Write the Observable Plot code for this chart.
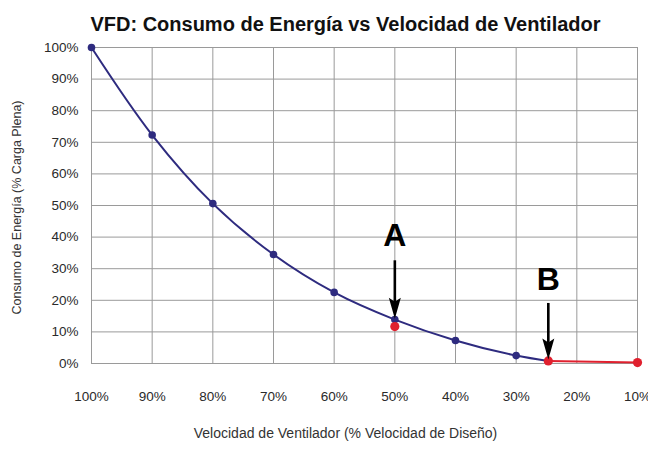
<!DOCTYPE html>
<html>
<head>
<meta charset="utf-8">
<script src="https://cdn.jsdelivr.net/npm/d3@7"></script>
<script src="https://cdn.jsdelivr.net/npm/@observablehq/plot@0.6"></script>
<style>
  html, body { margin: 0; padding: 0; background: #fff; }
  #chart { width: 648px; height: 449px; }
</style>
</head>
<body>
<div id="chart"></div>
<script>
// ---- Data ----
const title = "VFD: Consumo de Energía vs Velocidad de Ventilador";
const xLabel = "Velocidad de Ventilador (% Velocidad de Diseño)";
const yLabel = "Consumo de Energía (% Carga Plena)";

const xTicks = [100, 90, 80, 70, 60, 50, 40, 30, 20, 10];
const yTicks = [0, 10, 20, 30, 40, 50, 60, 70, 80, 90, 100];

// blue curve (fan law)
const blueSpeed = [100, 90, 80, 70, 60, 50, 40, 30, 24.7];
const bluePower = [100, 72.3, 50.6, 34.5, 22.5, 13.9, 7.3, 2.5, 0.8];
// blue markers (all except the last, which is point B)
const blueDotSpeed = [100, 90, 80, 70, 60, 50, 40, 30];
const blueDotPower = [100, 72.3, 50.6, 34.5, 22.5, 13.9, 7.3, 2.5];

// red segment
const redSpeed = [24.7, 10];
const redPower = [0.8, 0.3];
// red markers
const redDotSpeed = [50, 24.7, 10];
const redDotPower = [11.7, 0.8, 0.3];

// annotations
const annLabels = ["A", "B"];
const annSpeed = [50, 24.7];
const annLabelPower = [40.5, 26.5];
const annArrowFrom = [32.5, 19];
const annArrowTo = [14.2, 1.3];

const blueColor = "#2e2b7f";
const redColor = "#e0202e";

const blue = blueSpeed.map((s, i) => ({s, p: bluePower[i]}));
const blueDots = blueDotSpeed.map((s, i) => ({s, p: blueDotPower[i]}));
const red = redSpeed.map((s, i) => ({s, p: redPower[i]}));
const redDots = redDotSpeed.map((s, i) => ({s, p: redDotPower[i]}));
const ann = annLabels.map((t, i) => ({t, s: annSpeed[i], p: annLabelPower[i], p1: annArrowFrom[i], p2: annArrowTo[i]}));

// narrow filled arrowhead, tip at the anchor point, pointing down
const arrowHead = {
  draw(ctx) {
    ctx.moveTo(0, 0);
    ctx.lineTo(-6, -21);
    ctx.lineTo(0, -17);
    ctx.lineTo(6, -21);
    ctx.closePath();
  }
};

const font = "'Liberation Sans', Arial, sans-serif";

const chart = Plot.plot({
  width: 648,
  height: 449,
  marginLeft: 91,
  marginRight: 11,
  marginTop: 47,
  marginBottom: 86,
  style: {fontFamily: font, fontSize: "13px", color: "#2a2a2a", background: "#fff"},
  x: {domain: [100, 10], ticks: xTicks, tickFormat: d => d + "%", label: null},
  y: {domain: [0, 100], ticks: yTicks, tickFormat: d => d + "%", label: null},
  marks: [
    Plot.gridX(xTicks, {stroke: "#9a9a9a", strokeOpacity: 1, strokeWidth: 1}),
    Plot.gridY(yTicks, {stroke: "#9a9a9a", strokeOpacity: 1, strokeWidth: 1}),
    Plot.axisX(xTicks, {tickSize: 0, tickPadding: 28, tickFormat: d => d + "%", fill: "#2a2a2a", fontSize: 13.5, label: null}),
    Plot.axisY(yTicks, {tickSize: 0, tickPadding: 13, tickFormat: d => d + "%", fill: "#2a2a2a", fontSize: 13.5, label: null}),
    Plot.line(blue, {x: "s", y: "p", stroke: blueColor, strokeWidth: 2, curve: "catmull-rom"}),
    Plot.line(red, {x: "s", y: "p", stroke: redColor, strokeWidth: 2, curve: "catmull-rom"}),
    Plot.dot(blueDots, {x: "s", y: "p", r: 3.8, fill: blueColor, stroke: "none"}),
    Plot.dot(redDots, {x: "s", y: "p", r: 4.6, fill: redColor, stroke: "none"}),
    Plot.ruleX(ann, {x: "s", y1: "p1", y2: "p2", stroke: "#000", strokeWidth: 2.6, insetBottom: 16}),
    Plot.dot(ann, {x: "s", y: "p2", symbol: arrowHead, fill: "#000", stroke: "none"}),
    Plot.text(ann, {x: "s", y: "p", text: "t", fontSize: 32, fontWeight: "bold", fill: "#000", fontFamily: font}),
    Plot.text([title], {frameAnchor: "top", dx: -19, dy: -31, fontSize: 20, fontWeight: "bold", fill: "#111"}),
    Plot.text([xLabel], {frameAnchor: "bottom", dx: -19, dy: 74, fontSize: 14, fill: "#333"}),
    Plot.text([yLabel], {frameAnchor: "left", textAnchor: "middle", dx: -75, dy: 2, rotate: -90, fontSize: 12.5, fill: "#333"})
  ]
});
document.getElementById("chart").appendChild(chart);
</script>
</body>
</html>
